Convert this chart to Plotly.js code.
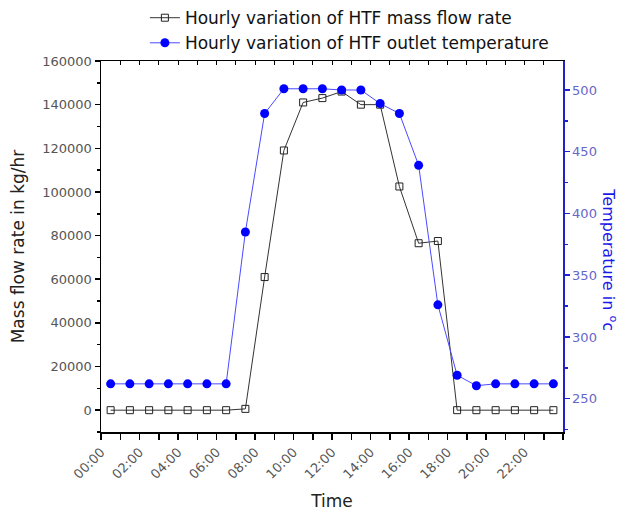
<!DOCTYPE html>
<html>
<head>
<meta charset="utf-8">
<script src="https://cdn.plot.ly/plotly-3.0.1.min.js"></script>
<style>html,body{margin:0;padding:0;background:#fff;}#chart{width:625px;height:511px;}</style>
</head>
<body>
<div id="chart"></div>
<script>
const hours = [0.5,1.5,2.5,3.5,4.5,5.5,6.5,7.5,8.5,9.5,10.5,11.5,12.5,13.5,14.5,15.5,16.5,17.5,18.5,19.5,20.5,21.5,22.5,23.5];
const massFlow = [0,0,0,0,0,0,0,600,61000,119000,141000,143000,146000,140000,140000,102500,76500,77500,0,0,0,0,0,0];
const outletTemp = [262,262,262,262,262,262,262,385,481,501,501,501,500,500,489,481,439,326,269,260.5,262,262,262,262];
const tickHours = [0,2,4,6,8,10,12,14,16,18,20,22];
const tickLabels = ["00:00","02:00","04:00","06:00","08:00","10:00","12:00","14:00","16:00","18:00","20:00","22:00"];
const seriesNames = ["Hourly variation of HTF mass flow rate","Hourly variation of HTF outlet temperature"];

const FONT = "DejaVu Sans, Verdana, sans-serif";
const traces = [
  {x: hours, y: massFlow, name: seriesNames[0], type: 'scatter', mode: 'lines+markers', legendgroup: 'a',
   line: {color: '#333333', width: 1}, marker: {symbol: 'square-open', size: 7, color: '#222222', line: {width: 1, color: '#222222'}},
   xaxis: 'x', yaxis: 'y'},
  {x: hours, y: outletTemp, name: seriesNames[1], type: 'scatter', mode: 'lines+markers', legendgroup: 'b',
   line: {color: '#4a4aff', width: 1}, marker: {symbol: 'circle', size: 9, color: '#0000ff'},
   xaxis: 'x', yaxis: 'y2'},
  {x: [null], y: [null], xaxis: 'x2', yaxis: 'y', showlegend: false, hoverinfo: 'skip', type: 'scatter', mode: 'markers'}
];
const layout = {
  width: 625, height: 511,
  margin: {l: 101, r: 62, t: 61, b: 79, autoexpand: false},
  paper_bgcolor: '#fff', plot_bgcolor: '#fff',
  font: {family: FONT, size: 13, color: '#444'},
  showlegend: true,
  legend: {x: 0.095, y: 1.164, xanchor: 'left', yanchor: 'top', font: {family: FONT, size: 17, color: '#111'},
           bgcolor: 'rgba(0,0,0,0)', tracegroupgap: 0, traceorder: 'grouped'},
  xaxis: {range: [0, 24], tickvals: tickHours, ticktext: tickLabels, tickangle: -45,
          ticks: 'outside', ticklen: 6, tickcolor: '#000', tickwidth: 1.5,
          minor: {dtick: 1, tick0: 0, ticks: 'outside', ticklen: 6, tickcolor: '#000', tickwidth: 1.5},
          showline: true, linecolor: '#000', linewidth: 1.5, showgrid: false, zeroline: false,
          tickfont: {family: FONT, size: 13, color: '#555'},
          title: {text: 'Time', font: {family: FONT, size: 17, color: '#222'}, standoff: 14}},
  xaxis2: {overlaying: 'x', side: 'top', range: [0, 24], dtick: 1, tick0: 0, ticks: 'inside', ticklen: 4,
           tickcolor: '#000', showticklabels: false, showline: true, linecolor: '#000', linewidth: 1.5,
           showgrid: false, zeroline: false},
  yaxis: {range: [-10000, 160000], dtick: 20000, tick0: 0, ticks: 'outside', ticklen: 5, tickcolor: '#000', tickwidth: 1.5,
          minor: {dtick: 10000, ticks: 'outside', ticklen: 3, tickcolor: '#000'},
          showline: true, linecolor: '#000', linewidth: 1.5, showgrid: false, zeroline: false,
          tickformat: 'd', tickfont: {family: FONT, size: 13, color: '#555'},
          title: {text: 'Mass flow rate in kg/hr', font: {family: FONT, size: 17, color: '#222'}, standoff: 13}},
  yaxis2: {overlaying: 'y', side: 'right', range: [223, 523.5], dtick: 50, tick0: 250,
           ticks: 'outside', ticklen: 5, tickcolor: '#2222cc', tickwidth: 1.5,
           minor: {dtick: 25, ticks: 'outside', ticklen: 3, tickcolor: '#2222cc'},
           showline: true, linecolor: '#2222cc', linewidth: 1.5, showgrid: false, zeroline: false,
           tickfont: {family: FONT, size: 13, color: '#6666cc'}},
  annotations: [
    {text: 'Temperature in <sup>o</sup>c', textangle: 90, xref: 'paper', yref: 'paper', x: 1.1, y: 0.465,
     xanchor: 'center', yanchor: 'middle', showarrow: false, font: {family: FONT, size: 16, color: '#1a1ae6'}}
  ]
};
Plotly.newPlot('chart', traces, layout, {displayModeBar: false, staticPlot: true});
</script>
</body>
</html>
